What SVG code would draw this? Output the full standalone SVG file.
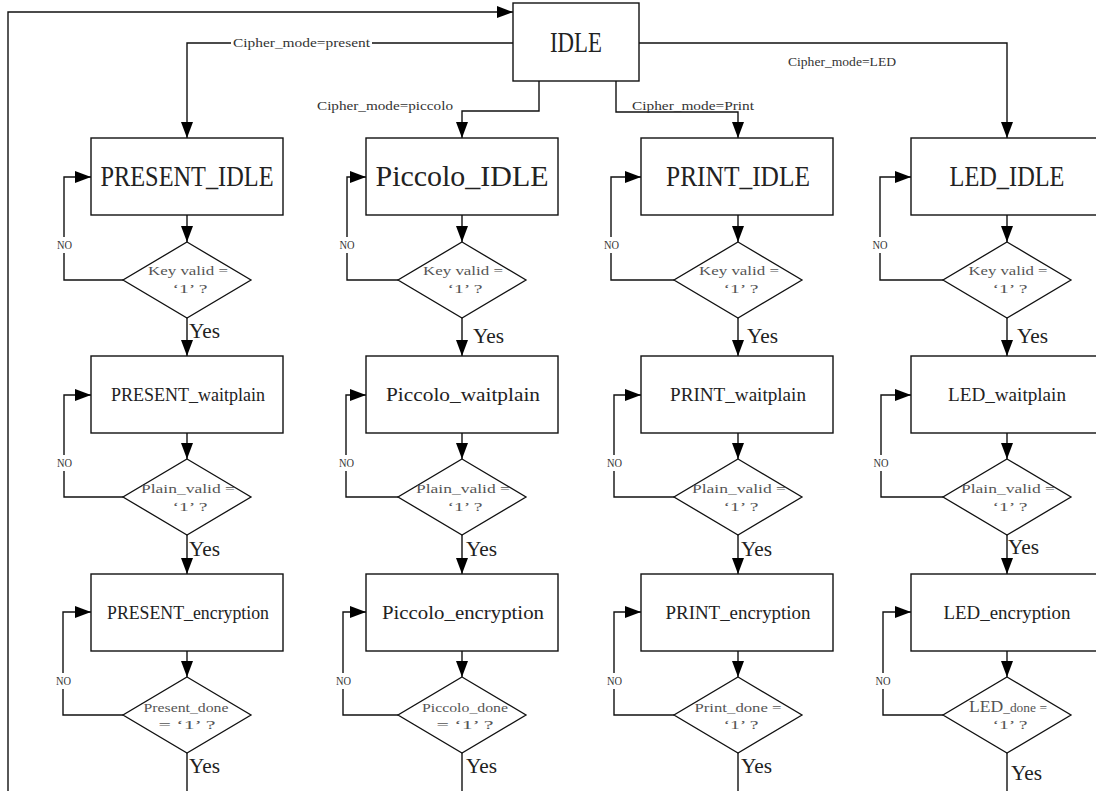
<svg xmlns="http://www.w3.org/2000/svg" width="1096" height="791" viewBox="0 0 1096 791">
<defs>
<marker id="ah" markerWidth="16" markerHeight="12" refX="16" refY="6" orient="auto" markerUnits="userSpaceOnUse"><path d="M0,0 L16,6 L0,12 z" fill="#000"/></marker>
<style>
.ln{fill:none;stroke:#111;stroke-width:1.4}
.ar{fill:none;stroke:#111;stroke-width:1.4;marker-end:url(#ah)}
.box{fill:#fff;stroke:#111;stroke-width:1.4}
.dia{fill:#fff;stroke:#111;stroke-width:1.3}
text{font-family:"Liberation Serif",serif;fill:#222}
.t1{font-size:29px;text-anchor:middle}
.t2{font-size:19px;text-anchor:middle}
.td{font-size:13px;fill:#555;text-anchor:middle}
.lb{font-size:13px;fill:#333}
.yes{font-size:20px}
.no{font-size:12px;text-anchor:middle;fill:#333}
.bg{fill:#fff}
</style>
</defs>
<rect width="1096" height="791" fill="#fff"/>

<g id="connectors">
<!-- IDLE outputs and return loop -->
<path class="ar" d="M8,791 V12 H513"/>
<path class="ar" d="M513,43 H187 V138"/>
<path class="ar" d="M539,81 V111 H462 V138"/>
<path class="ar" d="M616,81 V112 H738 V138"/>
<path class="ar" d="M639,43 H1007 V138"/>
<rect class="bg" x="231" y="36" width="141" height="14"/>
<text class="lb" x="233" y="47" textLength="137" lengthAdjust="spacingAndGlyphs">Cipher_mode=present</text>
<text class="lb" x="317" y="110" textLength="136" lengthAdjust="spacingAndGlyphs">Cipher_mode=piccolo</text>
<text class="lb" x="632" y="110" textLength="122" lengthAdjust="spacingAndGlyphs">Cipher_mode=Print</text>
<text class="lb" x="788" y="66" textLength="108" lengthAdjust="spacingAndGlyphs">Cipher_mode=LED</text>

<!-- column 1 -->
<path class="ar" d="M187,215 V242"/>
<path class="ar" d="M187,318 V356"/>
<path class="ar" d="M187,433 V459"/>
<path class="ar" d="M187,535 V574"/>
<path class="ar" d="M187,651 V677"/>
<path class="ln" d="M187,753 V791"/>
<path class="ar" d="M123,280 H64 V177 H91"/>
<path class="ar" d="M123,497 H64 V395 H91"/>
<path class="ar" d="M123,715 H63 V612 H91"/>
<!-- column 2 -->
<path class="ar" d="M462,215 V242"/>
<path class="ar" d="M462,318 V356"/>
<path class="ar" d="M462,433 V459"/>
<path class="ar" d="M462,535 V574"/>
<path class="ar" d="M462,651 V677"/>
<path class="ln" d="M462,753 V791"/>
<path class="ar" d="M398,280 H347 V177 H366"/>
<path class="ar" d="M398,497 H346 V395 H366"/>
<path class="ar" d="M398,715 H343 V612 H366"/>
<!-- column 3 -->
<path class="ar" d="M738,215 V242"/>
<path class="ar" d="M738,318 V356"/>
<path class="ar" d="M738,433 V459"/>
<path class="ar" d="M738,535 V574"/>
<path class="ar" d="M738,651 V677"/>
<path class="ln" d="M738,753 V791"/>
<path class="ar" d="M674,280 H611 V177 H641"/>
<path class="ar" d="M674,497 H614 V395 H641"/>
<path class="ar" d="M674,715 H614 V612 H641"/>
<!-- column 4 -->
<path class="ar" d="M1007,215 V242"/>
<path class="ar" d="M1007,318 V356"/>
<path class="ar" d="M1007,433 V459"/>
<path class="ar" d="M1007,535 V574"/>
<path class="ar" d="M1007,651 V677"/>
<path class="ln" d="M1007,753 V791"/>
<path class="ar" d="M943,280 H880 V177 H911"/>
<path class="ar" d="M943,497 H881 V395 H911"/>
<path class="ar" d="M943,715 H883 V612 H911"/>

<!-- NO labels -->
<rect class="bg" x="56" y="237" width="17" height="16"/><text class="no" x="64.5" y="249" textLength="15" lengthAdjust="spacingAndGlyphs">NO</text>
<rect class="bg" x="56" y="455" width="17" height="16"/><text class="no" x="64.5" y="467" textLength="15" lengthAdjust="spacingAndGlyphs">NO</text>
<rect class="bg" x="55" y="673" width="17" height="16"/><text class="no" x="63.5" y="685" textLength="15" lengthAdjust="spacingAndGlyphs">NO</text>
<rect class="bg" x="339" y="237" width="17" height="16"/><text class="no" x="347" y="249" textLength="15" lengthAdjust="spacingAndGlyphs">NO</text>
<rect class="bg" x="338" y="455" width="17" height="16"/><text class="no" x="346.5" y="467" textLength="15" lengthAdjust="spacingAndGlyphs">NO</text>
<rect class="bg" x="335" y="673" width="17" height="16"/><text class="no" x="343.5" y="685" textLength="15" lengthAdjust="spacingAndGlyphs">NO</text>
<rect class="bg" x="603" y="237" width="17" height="16"/><text class="no" x="611.5" y="249" textLength="15" lengthAdjust="spacingAndGlyphs">NO</text>
<rect class="bg" x="606" y="455" width="17" height="16"/><text class="no" x="614.5" y="467" textLength="15" lengthAdjust="spacingAndGlyphs">NO</text>
<rect class="bg" x="606" y="673" width="17" height="16"/><text class="no" x="614.5" y="685" textLength="15" lengthAdjust="spacingAndGlyphs">NO</text>
<rect class="bg" x="871" y="237" width="18" height="16"/><text class="no" x="880" y="249" textLength="15" lengthAdjust="spacingAndGlyphs">NO</text>
<rect class="bg" x="872" y="455" width="18" height="16"/><text class="no" x="881" y="467" textLength="15" lengthAdjust="spacingAndGlyphs">NO</text>
<rect class="bg" x="874" y="673" width="18" height="16"/><text class="no" x="883" y="685" textLength="15" lengthAdjust="spacingAndGlyphs">NO</text>

<!-- Yes labels -->
<text class="yes" x="189" y="338" textLength="31" lengthAdjust="spacingAndGlyphs">Yes</text>
<text class="yes" x="189" y="556" textLength="31" lengthAdjust="spacingAndGlyphs">Yes</text>
<text class="yes" x="189" y="773" textLength="31" lengthAdjust="spacingAndGlyphs">Yes</text>
<text class="yes" x="473" y="343" textLength="31" lengthAdjust="spacingAndGlyphs">Yes</text>
<text class="yes" x="466" y="556" textLength="31" lengthAdjust="spacingAndGlyphs">Yes</text>
<text class="yes" x="466" y="773" textLength="31" lengthAdjust="spacingAndGlyphs">Yes</text>
<text class="yes" x="747" y="343" textLength="31" lengthAdjust="spacingAndGlyphs">Yes</text>
<text class="yes" x="741" y="556" textLength="31" lengthAdjust="spacingAndGlyphs">Yes</text>
<text class="yes" x="741" y="773" textLength="31" lengthAdjust="spacingAndGlyphs">Yes</text>
<text class="yes" x="1017" y="343" textLength="31" lengthAdjust="spacingAndGlyphs">Yes</text>
<text class="yes" x="1008" y="554" textLength="31" lengthAdjust="spacingAndGlyphs">Yes</text>
<text class="yes" x="1011" y="780" textLength="31" lengthAdjust="spacingAndGlyphs">Yes</text>
</g>

<g id="idle">
<rect class="box" x="513" y="3" width="126" height="78"/>
<text class="t1" x="576" y="52" textLength="52" lengthAdjust="spacingAndGlyphs">IDLE</text>
</g>

<!-- Column 1: PRESENT -->
<g id="present_idle">
<rect class="box" x="91" y="138" width="192" height="77"/>
<text class="t1" x="187" y="186" textLength="173" lengthAdjust="spacingAndGlyphs">PRESENT_IDLE</text>
</g>
<g id="present_key_valid">
<polygon class="dia" points="187,242 251,280 187,318 123,280"/>
<text class="td" x="188" y="275" textLength="80" lengthAdjust="spacingAndGlyphs">Key valid =</text>
<text class="td" x="190" y="293" textLength="35" lengthAdjust="spacingAndGlyphs">‘1’ ?</text>
</g>
<g id="present_waitplain">
<rect class="box" x="91" y="356" width="192" height="77"/>
<text class="t2" x="188" y="401" textLength="154" lengthAdjust="spacingAndGlyphs">PRESENT_waitplain</text>
</g>
<g id="present_plain_valid">
<polygon class="dia" points="187,459 251,497 187,535 123,497"/>
<text class="td" x="188" y="493" textLength="94" lengthAdjust="spacingAndGlyphs">Plain_valid =</text>
<text class="td" x="190" y="511" textLength="35" lengthAdjust="spacingAndGlyphs">‘1’ ?</text>
</g>
<g id="present_encryption">
<rect class="box" x="91" y="574" width="192" height="77"/>
<text class="t2" x="188" y="619" textLength="162" lengthAdjust="spacingAndGlyphs">PRESENT_encryption</text>
</g>
<g id="present_done">
<polygon class="dia" points="187,677 251,715 187,753 123,715"/>
<text class="td" x="186" y="712" textLength="85" lengthAdjust="spacingAndGlyphs">Present_done</text>
<text class="td" x="187" y="729" textLength="57" lengthAdjust="spacingAndGlyphs">=  ‘1’ ?</text>
</g>

<!-- Column 2: Piccolo -->
<g id="piccolo_idle">
<rect class="box" x="366" y="138" width="192" height="77"/>
<text class="t1" x="462" y="186" textLength="173" lengthAdjust="spacingAndGlyphs">Piccolo_IDLE</text>
</g>
<g id="piccolo_key_valid">
<polygon class="dia" points="462,242 526,280 462,318 398,280"/>
<text class="td" x="463" y="275" textLength="80" lengthAdjust="spacingAndGlyphs">Key valid =</text>
<text class="td" x="465" y="293" textLength="35" lengthAdjust="spacingAndGlyphs">‘1’ ?</text>
</g>
<g id="piccolo_waitplain">
<rect class="box" x="366" y="356" width="192" height="77"/>
<text class="t2" x="463" y="401" textLength="154" lengthAdjust="spacingAndGlyphs">Piccolo_waitplain</text>
</g>
<g id="piccolo_plain_valid">
<polygon class="dia" points="462,459 526,497 462,535 398,497"/>
<text class="td" x="463" y="493" textLength="94" lengthAdjust="spacingAndGlyphs">Plain_valid =</text>
<text class="td" x="465" y="511" textLength="35" lengthAdjust="spacingAndGlyphs">‘1’ ?</text>
</g>
<g id="piccolo_encryption">
<rect class="box" x="366" y="574" width="192" height="77"/>
<text class="t2" x="463" y="619" textLength="162" lengthAdjust="spacingAndGlyphs">Piccolo_encryption</text>
</g>
<g id="piccolo_done">
<polygon class="dia" points="462,677 526,715 462,753 398,715"/>
<text class="td" x="465" y="712" textLength="86" lengthAdjust="spacingAndGlyphs">Piccolo_done</text>
<text class="td" x="465" y="729" textLength="57" lengthAdjust="spacingAndGlyphs">=  ‘1’ ?</text>
</g>

<!-- Column 3: PRINT -->
<g id="print_idle">
<rect class="box" x="641" y="138" width="192" height="77"/>
<text class="t1" x="738" y="186" textLength="144" lengthAdjust="spacingAndGlyphs">PRINT_IDLE</text>
</g>
<g id="print_key_valid">
<polygon class="dia" points="738,242 802,280 738,318 674,280"/>
<text class="td" x="739" y="275" textLength="80" lengthAdjust="spacingAndGlyphs">Key valid =</text>
<text class="td" x="741" y="293" textLength="35" lengthAdjust="spacingAndGlyphs">‘1’ ?</text>
</g>
<g id="print_waitplain">
<rect class="box" x="641" y="356" width="192" height="77"/>
<text class="t2" x="738" y="401" textLength="136" lengthAdjust="spacingAndGlyphs">PRINT_waitplain</text>
</g>
<g id="print_plain_valid">
<polygon class="dia" points="738,459 802,497 738,535 674,497"/>
<text class="td" x="739" y="493" textLength="94" lengthAdjust="spacingAndGlyphs">Plain_valid =</text>
<text class="td" x="741" y="511" textLength="35" lengthAdjust="spacingAndGlyphs">‘1’ ?</text>
</g>
<g id="print_encryption">
<rect class="box" x="641" y="574" width="192" height="77"/>
<text class="t2" x="738" y="619" textLength="145" lengthAdjust="spacingAndGlyphs">PRINT_encryption</text>
</g>
<g id="print_done">
<polygon class="dia" points="738,677 802,715 738,753 674,715"/>
<text class="td" x="738" y="712" textLength="87" lengthAdjust="spacingAndGlyphs">Print_done =</text>
<text class="td" x="741" y="729" textLength="35" lengthAdjust="spacingAndGlyphs">‘1’ ?</text>
</g>

<!-- Column 4: LED -->
<g id="led_idle">
<rect class="box" x="911" y="138" width="192" height="77"/>
<text class="t1" x="1007" y="186" textLength="115" lengthAdjust="spacingAndGlyphs">LED_IDLE</text>
</g>
<g id="led_key_valid">
<polygon class="dia" points="1007,242 1071,280 1007,318 943,280"/>
<text class="td" x="1008" y="275" textLength="79" lengthAdjust="spacingAndGlyphs">Key valid =</text>
<text class="td" x="1010" y="293" textLength="35" lengthAdjust="spacingAndGlyphs">‘1’ ?</text>
</g>
<g id="led_waitplain">
<rect class="box" x="911" y="356" width="192" height="77"/>
<text class="t2" x="1007" y="401" textLength="118" lengthAdjust="spacingAndGlyphs">LED_waitplain</text>
</g>
<g id="led_plain_valid">
<polygon class="dia" points="1007,459 1071,497 1007,535 943,497"/>
<text class="td" x="1008" y="493" textLength="94" lengthAdjust="spacingAndGlyphs">Plain_valid =</text>
<text class="td" x="1010" y="511" textLength="35" lengthAdjust="spacingAndGlyphs">‘1’ ?</text>
</g>
<g id="led_encryption">
<rect class="box" x="911" y="574" width="192" height="77"/>
<text class="t2" x="1007" y="619" textLength="127" lengthAdjust="spacingAndGlyphs">LED_encryption</text>
</g>
<g id="led_done">
<polygon class="dia" points="1007,677 1071,715 1007,753 943,715"/>
<text class="td" x="1008" y="712" textLength="78" lengthAdjust="spacingAndGlyphs"><tspan font-size="17">LED</tspan>_done =</text>
<text class="td" x="1010" y="729" textLength="35" lengthAdjust="spacingAndGlyphs">‘1’ ?</text>
</g>
</svg>
